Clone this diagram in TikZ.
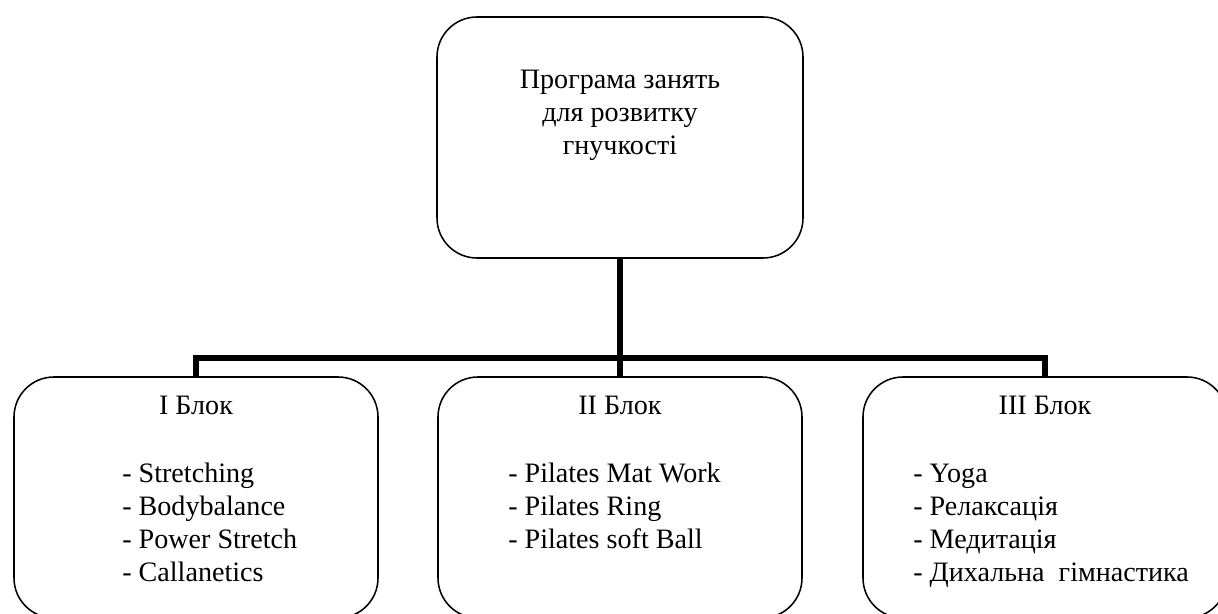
\documentclass[tikz,border=0pt]{standalone}
\usepackage{fontspec}
\setmainfont{Liberation Serif}
\tikzset{
  blok/.style={draw, rounded corners=1cm, line width=1.1pt, inner sep=0pt,
    minimum width=9.1cm, minimum height=6.025cm},
  lanka/.style={line width=4.3pt, line join=miter},
  napys/.style={inner sep=0pt, font=\fontsize{20}{23.5}\selectfont}
}
\begin{document}
\begin{tikzpicture}
    \useasboundingbox (0,0) rectangle (30.45,15.325);

    % Блоки
    \node[blok, minimum width=9.15cm] (prog) at (15.5,11.8875) {};
    \node[blok] (blok1) at (4.9,2.8875) {};
    \node[blok] (blok2) at (15.5,2.8875) {};
    \node[blok] (blok3) at (26.125,2.8875) {};

    % Зв'язки
    \draw[lanka] (prog.south) -- (blok2.north);
    \draw[lanka] (blok1.north) -- ++(0,0.45) -| (blok3.north);

    % Написи (base = останній рядок)
    \node[napys, align=center, anchor=base] (progtxt) at (15.5,11.473)
      {Програма занять\\ для розвитку\\ гнучкості};
    \node[napys, anchor=base] (t1) at (4.9,4.95) {І Блок};
    \node[napys, anchor=base] (t2) at (15.5,4.95) {ІІ Блок};
    \node[napys, anchor=base] (t3) at (26.125,4.95) {ІІІ Блок};
    \node[napys, align=left, anchor=base west] (s1) at (3.05,0.785)
      {- Stretching\\- Bodybalance\\- Power Stretch\\- Callanetics};
    \node[napys, align=left, anchor=base west] (s2) at (12.7,1.61)
      {- Pilates Mat Work\\- Pilates Ring\\- Pilates soft Ball};
    \node[napys, align=left, anchor=base west] (s3) at (22.825,0.785)
      {- Yoga\\- Релаксація\\- Медитація\\- Дихальна~ гімнастика};
\end{tikzpicture}
\end{document}
